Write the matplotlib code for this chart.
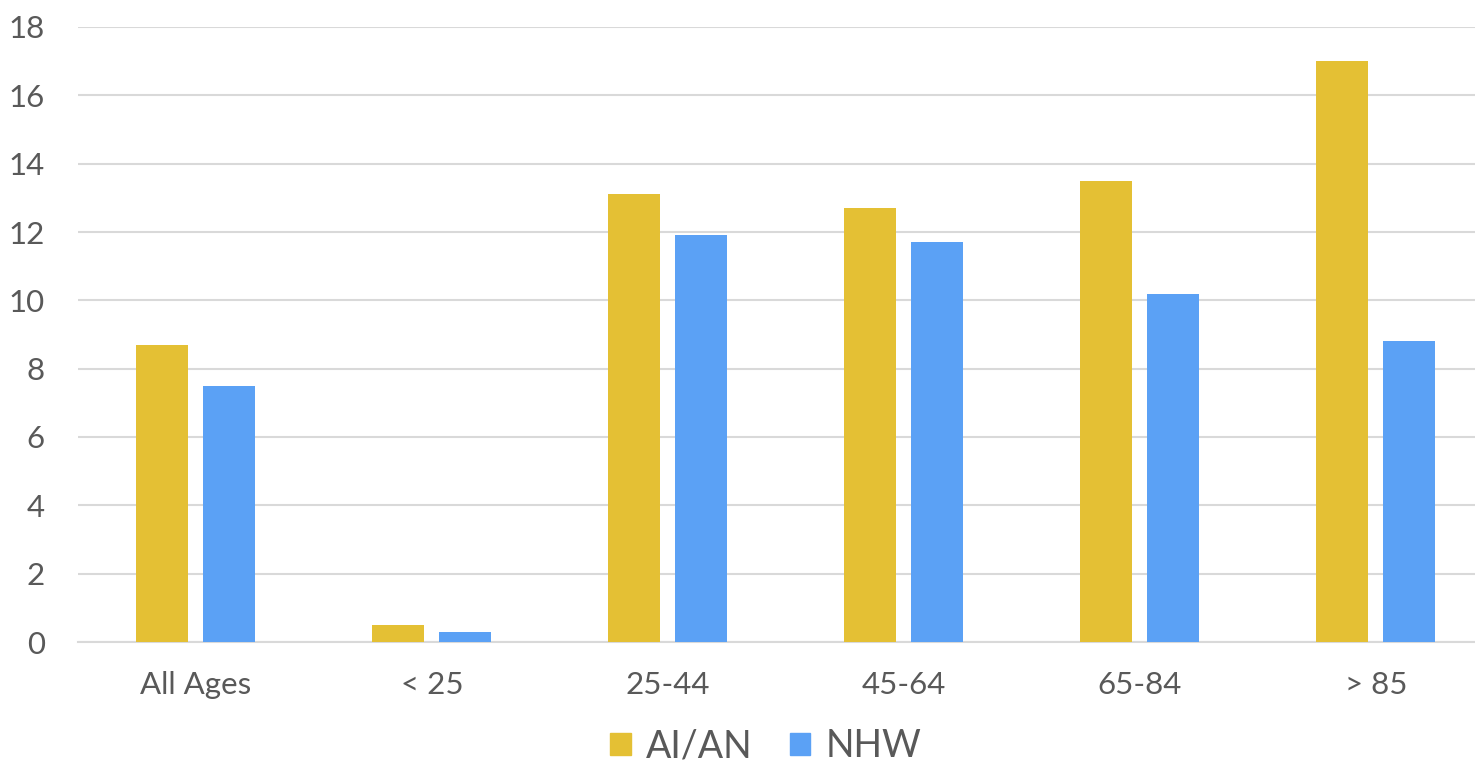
import numpy as np
import matplotlib.pyplot as plt
from matplotlib.patches import Patch

groups = ["All Ages", "< 25", "25-44", "45-64", "65-84", "> 85"]
aian = [8.7, 0.5, 13.1, 12.7, 13.5, 17.0]
nhw = [7.5, 0.3, 11.9, 11.7, 10.2, 8.8]

gold = "#E4C034"
blue = "#5BA1F5"
grey = "#595959"

plt.rcParams['font.family'] = ['Lato', 'DejaVu Sans']

fig = plt.figure(figsize=(14.75, 7.63), dpi=100)
# axes runs a little past the right edge of the figure
ax = fig.add_axes([78 / 1475, 121 / 763, 1416 / 1475, 615 / 763])

x = np.arange(len(groups))
w = 0.22
ax.bar(x - 0.144, aian, w, color=gold, zorder=3)
ax.bar(x + 0.14, nhw, w, color=blue, zorder=3)

ax.set_xlim(-0.5, len(groups) - 0.5)
ax.set_ylim(0, 18)
ax.set_yticks(np.arange(0, 19, 2))
ax.yaxis.grid(True, color="#D9D9D9", linewidth=1.5, zorder=0)
ax.set_xticks(x)
ax.set_xticklabels(groups)
ax.tick_params(axis="both", length=0, labelsize=22.5, colors=grey)
ax.tick_params(axis="y", pad=24)
ax.tick_params(axis="x", pad=21)
for s in ["top", "right", "left"]:
    ax.spines[s].set_visible(False)
ax.spines["bottom"].set_color("#D9D9D9")
ax.spines["bottom"].set_linewidth(1.5)

handles = [Patch(color=gold, label="AI/AN"), Patch(color=blue, label="NHW")]
fig.legend(handles=handles, loc="center", bbox_to_anchor=(0.519, 0.022),
           ncol=2, frameon=False, fontsize=27, labelcolor=grey,
           handlelength=0.55, handleheight=0.55, handletextpad=0.4,
           columnspacing=1.0)

fig.savefig("out.png", dpi=100, facecolor="white")
